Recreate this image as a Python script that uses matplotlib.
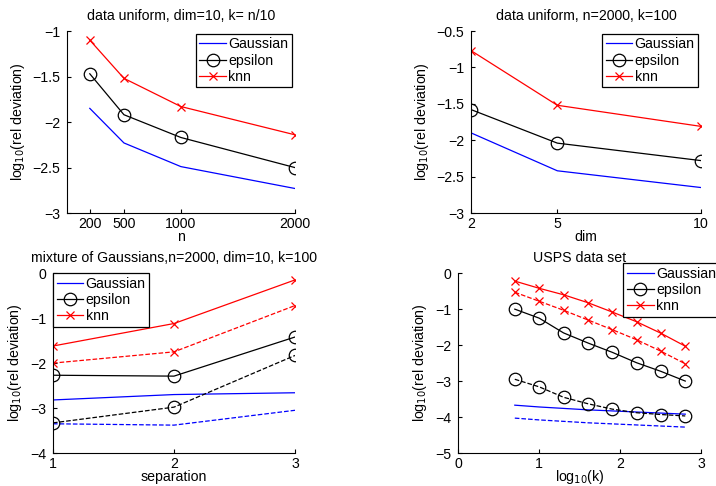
import matplotlib
matplotlib.use("Agg")
import matplotlib.pyplot as plt

plt.rcParams['font.family'] = ['Liberation Sans', 'DejaVu Sans']
plt.rcParams['font.size'] = 10.2

# Panel 1: data uniform, dim=10, k=n/10
n_vals = [200, 500, 1000, 2000]
p1_gauss = [-1.85, -2.23, -2.49, -2.73]
p1_eps = [-1.47, -1.92, -2.17, -2.50]
p1_knn = [-1.10, -1.52, -1.83, -2.14]

# Panel 2: data uniform, n=2000, k=100
dim_vals = [2, 5, 10]
p2_gauss = [-1.90, -2.42, -2.65]
p2_eps = [-1.58, -2.04, -2.28]
p2_knn = [-0.77, -1.52, -1.81]

# Panel 3: mixture of Gaussians
sep_vals = [1, 2, 3]
p3_gauss = [-2.82, -2.70, -2.66]
p3_gauss_d = [-3.35, -3.38, -3.05]
p3_eps = [-2.27, -2.29, -1.42]
p3_eps_d = [-3.33, -2.98, -1.83]
p3_knn = [-1.62, -1.12, -0.15]
p3_knn_d = [-2.00, -1.75, -0.72]

# Panel 4: USPS
logk = [0.699, 1.0, 1.301, 1.602, 1.903, 2.204, 2.505, 2.806]
p4_gauss = [-3.67, -3.72, -3.76, -3.80, -3.83, -3.86, -3.89, -3.92]
p4_gauss_d = [-4.03, -4.08, -4.12, -4.16, -4.19, -4.22, -4.25, -4.28]
p4_eps = [-1.00, -1.25, -1.66, -1.94, -2.20, -2.49, -2.73, -3.00]
p4_eps_d = [-2.95, -3.16, -3.45, -3.63, -3.78, -3.88, -3.93, -3.97]
p4_knn = [-0.22, -0.42, -0.60, -0.82, -1.08, -1.35, -1.67, -2.03]
p4_knn_d = [-0.53, -0.78, -1.03, -1.30, -1.57, -1.85, -2.17, -2.52]

labels = ['Gaussian', 'epsilon', 'knn']
ylab = r'log$_{10}$(rel deviation)'

fig = plt.figure(figsize=(7.16, 4.86), dpi=100)

def style(ax):
    ax.spines['top'].set_visible(False)
    ax.spines['right'].set_visible(False)
    ax.tick_params(direction='in', length=3, top=False, right=False)
    ax.tick_params(axis='y', pad=5)
    ax.tick_params(axis='x', pad=3)

def plot_set(ax, x, g, e, k, ls='-', lab=True):
    ax.plot(x, g, color='blue', lw=0.9, ls=ls, label=labels[0] if lab else None)
    ax.plot(x, e, color='black', lw=0.9, ls=ls, marker='o', ms=9, mfc='none',
            mec='black', mew=0.9, label=labels[1] if lab else None)
    ax.plot(x, k, color='red', lw=0.9, ls=ls, marker='x', ms=6, mew=0.9,
            label=labels[2] if lab else None)

def legend(ax, bpad=0.2, **kw):
    leg = ax.legend(fancybox=False, framealpha=1, edgecolor='black', borderpad=0.25,
                    labelspacing=0.15, handlelength=1.9, handletextpad=0.15,
                    borderaxespad=bpad, **kw)
    leg.get_frame().set_linewidth(0.9)
    return leg

def minus(vals, fmt):
    return [fmt.format(v).replace('-', '\u2212') for v in vals]

ax1 = fig.add_axes([0.0936, 0.5617, 0.318, 0.3745])
plot_set(ax1, n_vals, p1_gauss, p1_eps, p1_knn)
ax1.set_xlim(0, 2000)
ax1.set_ylim(-3, -1)
ax1.set_xticks(n_vals)
y1 = [-3, -2.5, -2, -1.5, -1]
ax1.set_yticks(y1)
ax1.set_yticklabels(minus(y1, '{:g}'))
ax1.set_title('data uniform, dim=10, k= n/10', fontsize=10.2, pad=8)
ax1.set_xlabel('n', labelpad=-1)
ax1.set_ylabel(ylab)
style(ax1)
legend(ax1, loc='upper right')

ax2 = fig.add_axes([0.658, 0.5617, 0.321, 0.3745])
plot_set(ax2, dim_vals, p2_gauss, p2_eps, p2_knn)
ax2.set_xlim(2, 10)
ax2.set_ylim(-3, -0.5)
ax2.set_xticks(dim_vals)
y2 = [-3, -2.5, -2, -1.5, -1, -0.5]
ax2.set_yticks(y2)
ax2.set_yticklabels(minus(y2, '{:g}'))
ax2.set_title('data uniform, n=2000, k=100', fontsize=10.2, pad=8)
ax2.set_xlabel('dim', labelpad=-1)
ax2.set_ylabel(ylab)
style(ax2)
legend(ax2, loc='upper right')

ax3 = fig.add_axes([0.074, 0.0679, 0.338, 0.370])
plot_set(ax3, sep_vals, p3_gauss, p3_eps, p3_knn)
plot_set(ax3, sep_vals, p3_gauss_d, p3_eps_d, p3_knn_d, ls='--', lab=False)
ax3.set_xlim(1, 3)
ax3.set_ylim(-4, 0)
ax3.set_xticks(sep_vals)
y3 = [-4, -3, -2, -1, 0]
ax3.set_yticks(y3)
ax3.set_yticklabels(minus(y3, '{:g}'))
ax3.set_title('mixture of Gaussians,n=2000, dim=10, k=100', fontsize=10.2, pad=8)
ax3.set_xlabel('separation', labelpad=-1)
ax3.set_ylabel(ylab)
style(ax3)
legend(ax3, bpad=0, loc='upper left', bbox_to_anchor=(0.0, 1.0))

ax4 = fig.add_axes([0.640, 0.0679, 0.339, 0.370])
plot_set(ax4, logk, p4_gauss, p4_eps, p4_knn)
plot_set(ax4, logk, p4_gauss_d, p4_eps_d, p4_knn_d, ls='--', lab=False)
ax4.set_xlim(0, 3)
ax4.set_ylim(-5, 0)
ax4.set_xticks([0, 1, 2, 3])
y4 = [-5, -4, -3, -2, -1, 0]
ax4.set_yticks(y4)
ax4.set_yticklabels(minus(y4, '{:g}'))
ax4.set_title('USPS data set', fontsize=10.2, pad=8)
ax4.set_xlabel(r'log$_{10}$(k)', labelpad=-2)
ax4.set_ylabel(ylab)
style(ax4)
legend(ax4, bpad=0, loc='upper left', bbox_to_anchor=(0.68, 1.055))

fig.savefig('out.png', dpi=100)
